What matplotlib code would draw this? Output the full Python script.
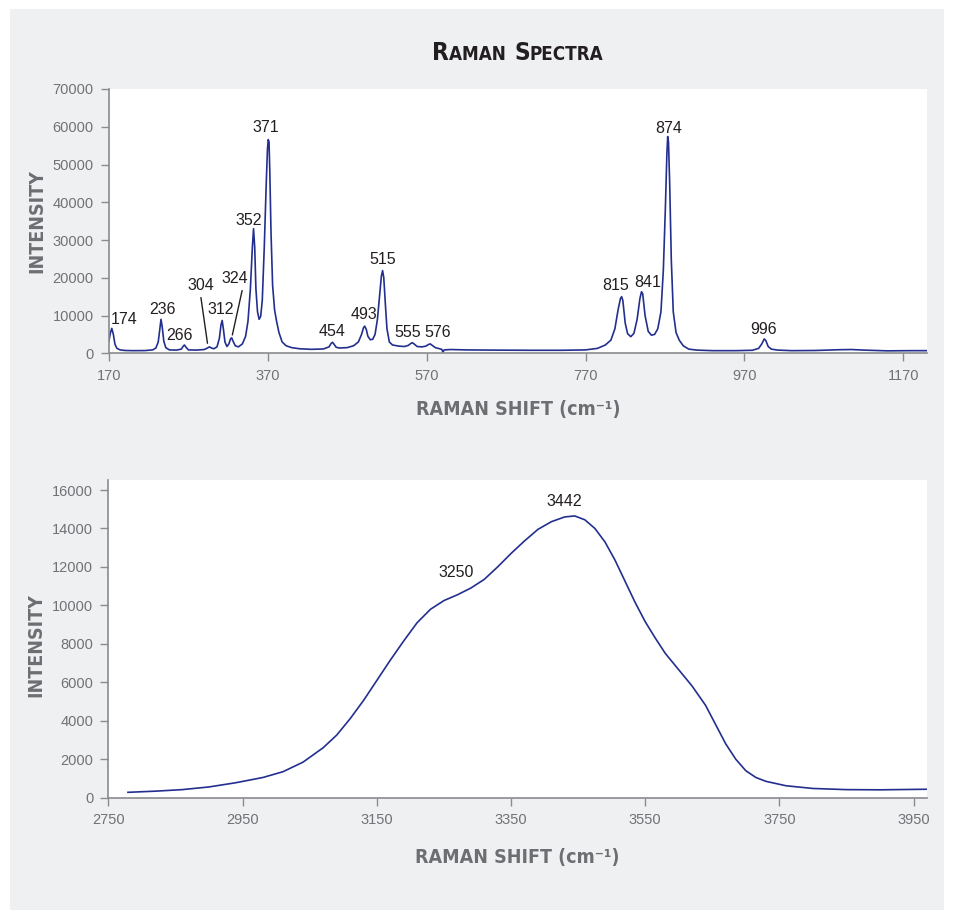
import matplotlib
matplotlib.use('Agg')
import matplotlib.pyplot as plt
from matplotlib.patches import Rectangle

# spectrum 1 (low range)
shift_low = [170, 171.5, 173.5, 175.5, 177.5, 180, 184, 190, 200, 215, 225, 229, 232, 234, 235.5, 237, 239, 241.5,
             246, 255, 261, 263.5, 265, 267, 270, 280, 290, 294, 296.5, 299, 302, 306, 309, 311, 312.5, 314, 316,
             318.5, 321, 323, 324.5, 326, 329, 333, 338, 342, 345, 348, 350.5, 352, 353.5, 355, 357, 359, 361, 363,
             365.5, 368, 369.5, 370.5, 371.5, 372.5, 374, 376, 378.5, 381, 384, 388, 393, 400, 410, 425, 440, 447,
             450, 451.5, 453, 456, 460, 470, 478, 484, 488, 490.5, 492, 494, 496, 499, 502, 505, 508, 511, 513,
             514.5, 516, 518, 520, 523, 527, 535, 542, 547, 550, 552, 554, 558, 564, 569, 572, 574.5, 577, 581,
             586, 589, 590.5, 592, 600, 620, 650, 700, 740, 770, 785, 795, 802, 807, 811, 814, 815.5, 817, 820,
             823, 827, 831, 835, 838.5, 840.5, 842, 845, 849, 853, 857, 861, 865, 868, 870.5, 872.5, 873.5, 874.5,
             876, 878, 880.5, 884, 888, 893, 900, 910, 930, 960, 980, 988, 992, 995, 997, 1000, 1004, 1012, 1030,
             1060, 1090, 1105, 1120, 1150, 1180, 1200]
int_low = [3300, 5200, 6600, 5000, 2400, 1300, 900, 750, 700, 720, 900, 1400, 3000, 6500, 9000, 7000, 3200, 1500,
           900, 850, 1100, 1900, 2200, 1600, 900, 850, 1000, 1400, 1700, 1400, 1200, 1700, 4000, 7500, 8700, 6500,
           3000, 1800, 2500, 3800, 4100, 3300, 2000, 1700, 2500, 4500, 8500, 17000, 28000, 33000, 28000, 17000,
           11000, 9000, 9800, 14000, 28000, 45000, 54000, 56600, 56000, 48000, 32000, 18000, 11500, 8500, 5500,
           3000, 2000, 1500, 1200, 1050, 1150, 1700, 2700, 2900, 2500, 1600, 1400, 1500, 2000, 3000, 5000, 6800,
           7200, 6300, 4500, 3600, 3700, 5000, 9000, 16000, 20500, 21900, 20000, 13000, 6500, 3000, 2200, 1900,
           1800, 2100, 2600, 2800, 2500, 1800, 1700, 1900, 2300, 2500, 2100, 1500, 1200, 1050, 300, 900, 1000,
           900, 850, 800, 800, 900, 1300, 2200, 3500, 6500, 11500, 14500, 15000, 14000, 8000, 5200, 4400, 5300,
           9000, 14500, 16300, 15800, 10000, 5800, 4800, 5000, 6500, 11000, 22000, 38000, 53000, 57400, 56000,
           45000, 25000, 11000, 5500, 3500, 2000, 1100, 850, 700, 700, 800, 1300, 2500, 3800, 3400, 1800, 1100,
           850, 700, 750, 950, 1000, 850, 650, 700, 700]

# spectrum 2 (OH range)
shift_high = [2779, 2820, 2860, 2900, 2940, 2980, 3010, 3040, 3070, 3090, 3110, 3130, 3150, 3170, 3190, 3210,
              3230, 3250, 3270, 3290, 3310, 3330, 3350, 3370, 3390, 3410, 3430, 3445, 3460, 3475, 3490, 3505,
              3520, 3535, 3550, 3565, 3580, 3600, 3620, 3640, 3655, 3670, 3685, 3700, 3715, 3730, 3760, 3800,
              3850, 3900, 3970]
int_high = [280, 340, 420, 560, 780, 1050, 1350, 1850, 2600, 3250, 4100, 5050, 6100, 7150, 8150, 9100,
            9800, 10250, 10550, 10900, 11350, 12000, 12700, 13350, 13950, 14350, 14600, 14650, 14450, 14000,
            13300, 12350, 11250, 10150, 9150, 8300, 7500, 6650, 5800, 4800, 3800, 2800, 2000, 1400, 1050, 850,
            620, 480, 420, 410, 440]

# peak labels
peaks_low = ['174', '236', '266', '304', '312', '324', '352', '371', '454', '493', '515', '555', '576',
             '815', '841', '874', '996']
lab_x_low = [188.5, 236.8, 259.4, 285, 310.2, 328.7, 346.3, 367, 450.5, 491.2, 514.7, 545.7, 584.4,
             807.3, 848.6, 874.5, 994.5]
lab_y_low = [9000, 11500, 4700, 17850, 11500, 19700, 35100, 59800, 5700, 10150, 24900, 5500, 5500,
             17850, 18800, 59650, 6180]
peaks_high = ['3250', '3442']
lab_x_high = [3268, 3429]
lab_y_high = [11690, 15380]

line_col = '#232f8e'
grey = '#6d6e71'
narrow = ['Liberation Sans Narrow', 'DejaVu Sans']
lab_font = ['Liberation Sans', 'DejaVu Sans']

fig = plt.figure(figsize=(9.54, 9.19), dpi=100)
fig.patches.append(Rectangle((10 / 954, 9 / 919), 934 / 954, 901 / 919, transform=fig.transFigure,
                             facecolor='#eff0f2', edgecolor='none', zorder=-5))

ax1 = fig.add_axes([109 / 954, 1 - 353.3 / 919, 818 / 954, 264.3 / 919])
ax2 = fig.add_axes([108.5 / 954, 1 - 797.7 / 919, 818.5 / 954, 317.7 / 919])


def style(ax):
    ax.set_zorder(2)
    ax.set_facecolor('white')
    for s in ['top', 'right']:
        ax.spines[s].set_visible(False)
    for s in ['left', 'bottom']:
        ax.spines[s].set_color('#8a8b8e')
        ax.spines[s].set_linewidth(1.2)
    ax.tick_params(direction='out', length=6, width=1, color='#8a8b8e', labelcolor='#717275',
                   labelsize=10.5, pad=5)
    for t in ax.get_xticklabels() + ax.get_yticklabels():
        t.set_family(lab_font)
    ax.set_ylabel('INTENSITY', family=narrow, fontweight='bold', fontsize=14, color=grey,
                  fontstretch='condensed')
    ax.set_xlabel('RAMAN SHIFT (cm⁻¹)', family=narrow, fontweight='bold', fontsize=14, color=grey,
                  fontstretch='condensed')


# top plot
ax1.plot(shift_low, int_low, color=line_col, lw=1.2)
ax1.set_xlim(170, 1200)
ax1.set_ylim(0, 70000)
ax1.set_xticks(range(170, 1171, 200))
ax1.set_yticks(range(0, 70001, 10000))
style(ax1)
ax1.yaxis.set_label_coords(-0.077, 0.5)
ax1.xaxis.set_label_coords(0.5, -0.177)

for i in range(len(peaks_low)):
    if peaks_low[i] == '304':
        ax1.annotate('304', xy=(294, 2650), xytext=(lab_x_low[i], lab_y_low[i]), ha='center', va='center',
                     fontsize=11.5, color='#231f20', family=lab_font,
                     arrowprops=dict(arrowstyle='-', color='#231f20', lw=1, shrinkA=1, shrinkB=0,
                                     relpos=(0.5, 0)))
    elif peaks_low[i] == '324':
        ax1.annotate('324', xy=(325.3, 4850), xytext=(lab_x_low[i], lab_y_low[i]), ha='center', va='center',
                     fontsize=11.5, color='#231f20', family=lab_font,
                     arrowprops=dict(arrowstyle='-', color='#231f20', lw=1, shrinkA=1, shrinkB=0,
                                     relpos=(0.8, 0)))
    else:
        ax1.text(lab_x_low[i], lab_y_low[i], peaks_low[i], ha='center', va='center', fontsize=11.5,
                 color='#231f20', family=lab_font)

# bottom plot
ax2.plot(shift_high, int_high, color=line_col, lw=1.2)
ax2.set_xlim(2750, 3970)
ax2.set_ylim(0, 16520)
ax2.set_xticks(range(2750, 3951, 200))
ax2.set_yticks(range(0, 16001, 2000))
style(ax2)
ax2.yaxis.set_label_coords(-0.077, 0.48)
ax2.xaxis.set_label_coords(0.5, -0.158)

for i in range(len(peaks_high)):
    ax2.text(lab_x_high[i], lab_y_high[i], peaks_high[i], ha='center', va='center', fontsize=11.5,
             color='#231f20', family=lab_font)

# title in small caps, built from pieces
pieces = [('R', 17.5), ('AMAN ', 13.5), ('S', 17.5), ('PECTRA', 13.5)]
fig.canvas.draw()
r = fig.canvas.get_renderer()
texts = []
total = 0
for s, size in pieces:
    t = fig.text(0, 1 - 60 / 919, s, fontsize=size, fontweight='bold', family=narrow, color='#231f20',
                 ha='left', va='baseline', fontstretch='condensed')
    w = t.get_window_extent(renderer=r).width
    if s.endswith(' '):
        w = w + 2
    texts.append((t, w))
    total += w
x0 = 518 - total / 2
for t, w in texts:
    t.set_x(x0 / 954)
    x0 += w

fig.savefig('out.png', dpi=100)
